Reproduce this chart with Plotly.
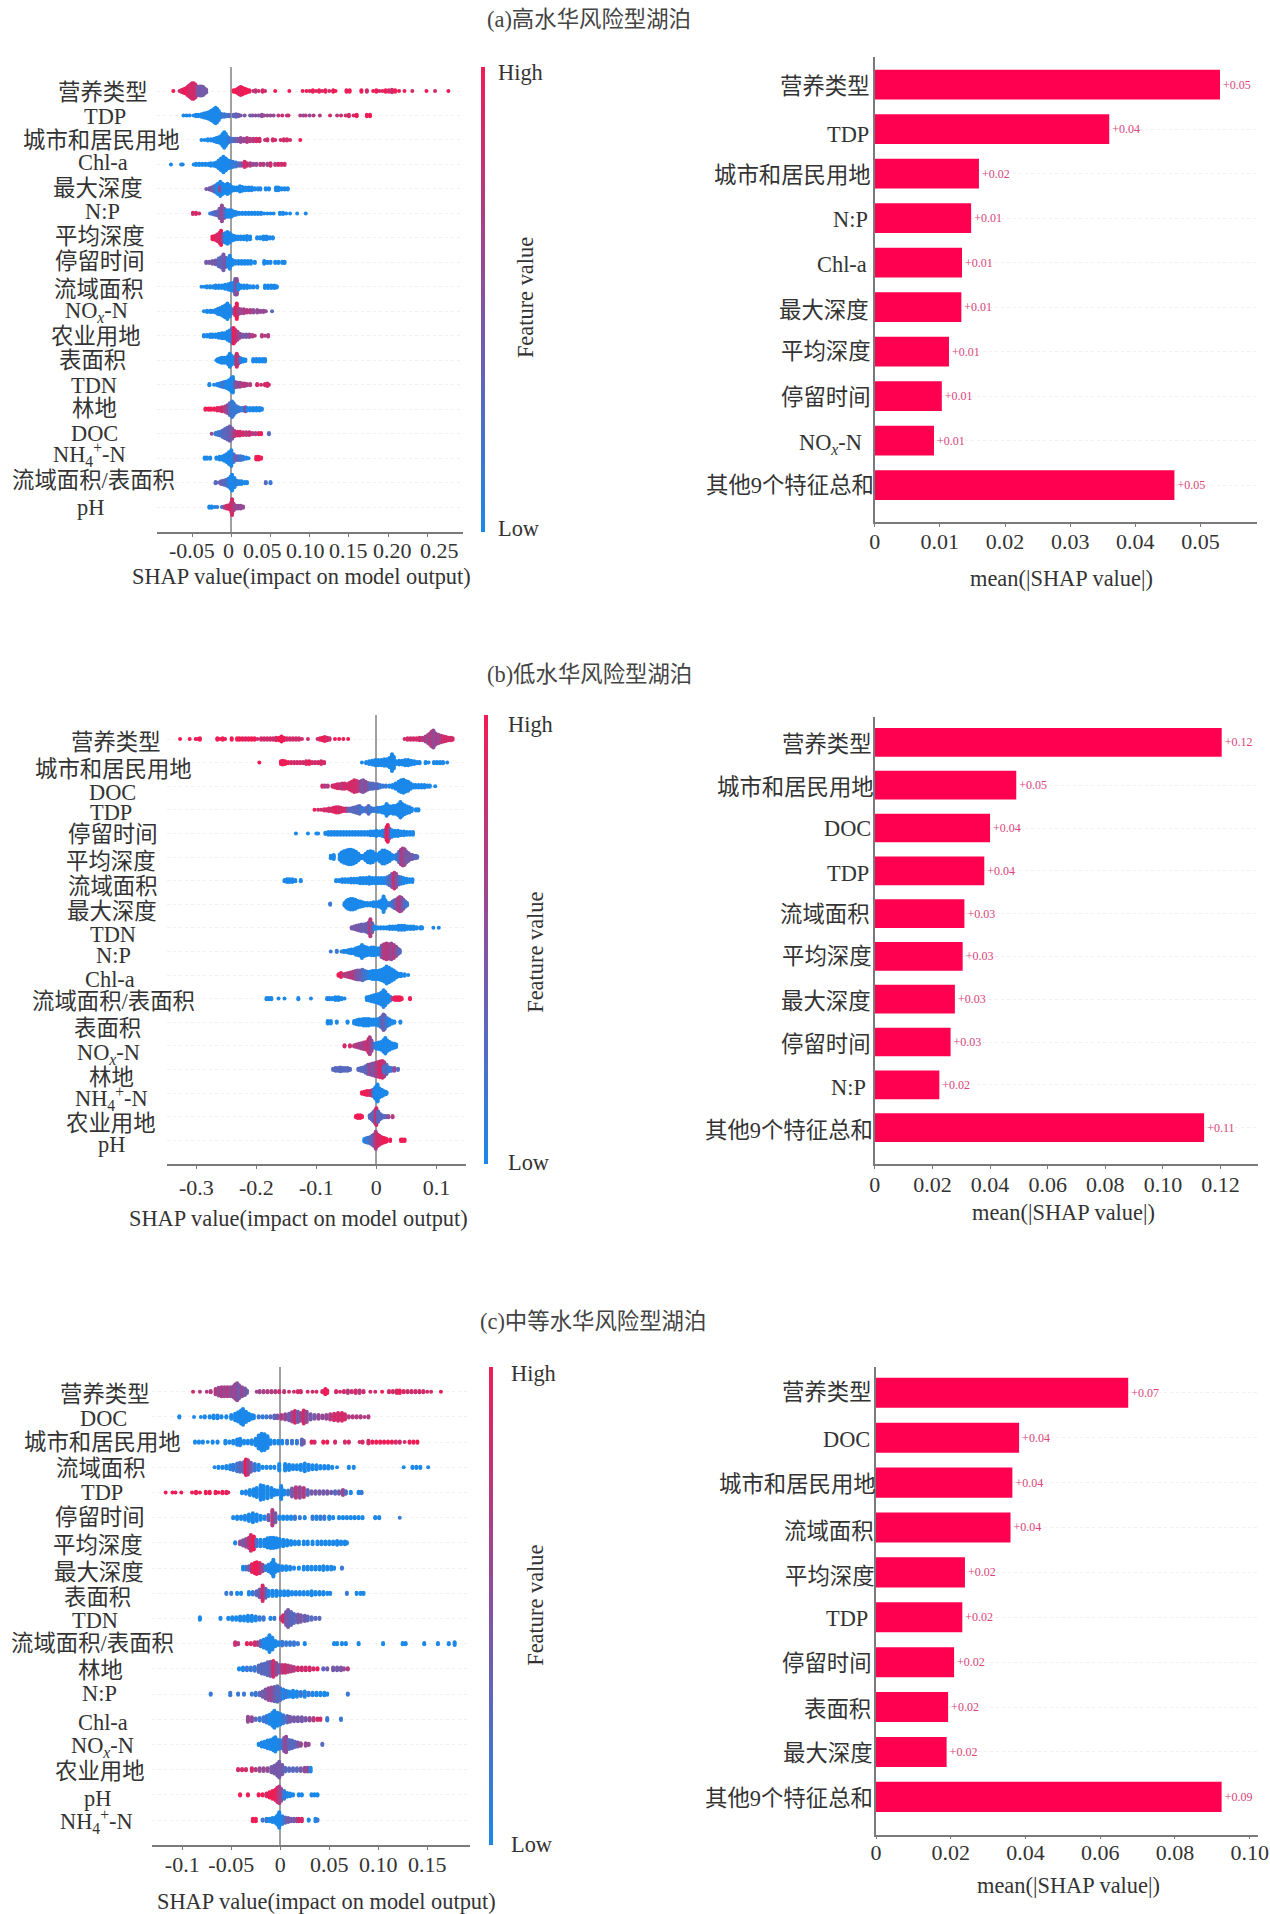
import plotly.graph_objects as go

W, H = 1270, 1914
FONT = "Liberation Serif, Noto Sans CJK SC"
TEXT_COLOR = "#333333"
AXIS_COLOR = "#7a7a7a"
STACK_PX = 1.3  # vertical step of the swarm

NOX = "NO<sub><i>x</i></sub>-N"
NH4 = "NH<sub>4</sub><sup>+</sup>-N"
OTHERS = "其他9个特征总和"

# SHAP rows: (shap value x 1000, number of samples, feature level from 2 = lowest to 9 = highest)
A_FEATURES = ["营养类型", "TDP", "城市和居民用地", "Chl-a", "最大深度", "N:P", "平均深度", "停留时间", "流域面积",
              NOX, "农业用地", "表面积", "TDN", "林地", "DOC", NH4, "流域面积/表面积", "pH"]
A_SHAP = [
    [(-74,1,9),(-66,1,8),(-64,2,8),(-62,3,8),(-60,4,9),(-58,5,9),(-56,7,9),(-54,9,8),(-52,11,8),(-50,13,8),(-48,13,8),(-46,11,8),(-44,8,7),(-42,7,5),(-40,8,5),(-38,8,5),(-36,7,5),(-34,5,5),(-32,3,5),(3,2,9),(6,3,9),(8,4,9),(10,6,9),(12,7,8),(14,6,9),(16,5,9),(18,4,9),(20,3,9),(23,2,9),(28,1,8),(31,2,7),(35,1,8),(40,2,8),(43,1,8),(56,1,9),(74,1,9),(91,1,9),(96,1,9),(100,1,8),(104,2,9),(108,1,8),(112,2,9),(116,1,8),(120,2,9),(125,1,8),(130,2,9),(133,1,9),(147,2,9),(151,2,9),(166,2,9),(173,2,8),(181,1,9),(185,2,9),(189,1,8),(193,1,9),(197,2,9),(201,2,8),(205,3,8),(209,2,9),(214,1,9),(221,1,9),(231,1,8),(249,1,9),(260,1,8),(277,1,9)],
    [(-61,1,2),(-57,1,2),(-53,1,2),(-48,1,2),(-45,2,2),(-42,2,2),(-38,3,2),(-35,4,2),(-32,5,2),(-29,6,2),(-26,8,2),(-24,9,2),(-22,11,2),(-20,13,2),(-18,11,2),(-16,8,2),(-14,4,2),(-12,3,3),(-9,3,3),(-6,2,3),(-3,2,4),(3,2,4),(6,3,4),(9,2,5),(12,1,5),(17,1,5),(24,1,5),(27,1,5),(31,1,6),(35,1,5),(39,2,6),(42,1,6),(46,1,6),(50,1,6),(54,1,6),(60,1,7),(65,1,8),(71,1,7),(73,1,8),(88,1,7),(92,1,6),(95,1,7),(100,1,6),(105,1,7),(113,1,7),(126,1,8),(135,1,7),(140,1,8),(146,1,8),(150,2,8),(156,1,8),(160,2,9),(173,2,9),(177,2,9)],
    [(-38,1,2),(-34,1,2),(-30,2,2),(-26,2,2),(-22,3,2),(-19,4,2),(-16,5,2),(-13,7,2),(-11,10,2),(-9,13,2),(-7,10,2),(-5,6,2),(-3,4,3),(-1,3,3),(2,3,4),(5,3,4),(8,3,5),(12,4,6),(16,3,6),(20,4,7),(24,3,7),(28,3,7),(32,3,8),(36,3,8),(43,1,7),(46,2,8),(53,2,8),(56,1,8),(63,1,8),(67,2,8),(71,2,8),(75,1,8),(88,1,9)],
    [(-77,1,2),(-64,1,2),(-62,1,2),(-48,1,2),(-45,2,2),(-41,2,2),(-37,2,2),(-33,2,2),(-29,2,2),(-26,3,2),(-22,3,2),(-19,4,2),(-16,7,2),(-13,10,2),(-10,13,2),(-7,10,2),(-4,7,2),(-1,6,2),(2,5,3),(6,4,3),(10,3,4),(13,3,5),(17,5,8),(20,3,8),(24,3,7),(28,2,6),(32,2,6),(37,2,7),(41,2,7),(46,2,6),(50,3,8),(56,2,7),(60,2,8),(64,2,8),(68,2,8)],
    [(-32,1,5),(-28,2,5),(-25,3,5),(-22,5,4),(-19,7,3),(-17,9,2),(-14,12,2),(-14,4,7),(-11,9,2),(-8,7,2),(-5,9,2),(-2,7,2),(1,4,2),(4,3,2),(7,3,2),(11,5,2),(14,4,2),(18,3,2),(22,3,2),(26,3,2),(30,2,2),(34,2,2),(37,2,2),(44,2,2),(48,2,2),(57,3,2),(60,3,2),(64,2,2),(68,2,2),(72,2,2)],
    [(-49,2,8),(-45,2,8),(-41,1,8),(-27,1,3),(-24,2,3),(-21,3,4),(-18,4,4),(-15,8,5),(-12,13,6),(-9,8,5),(-6,6,2),(-3,6,2),(0,6,2),(3,4,2),(6,3,2),(10,2,2),(14,2,2),(18,2,2),(22,2,2),(26,2,2),(30,2,2),(34,2,2),(38,2,2),(42,1,2),(46,1,2),(50,1,2),(54,1,2),(62,2,2),(66,2,2),(70,1,2),(75,1,2),(84,1,2),(95,1,2)],
    [(-24,3,9),(-21,4,9),(-18,6,8),(-15,9,8),(-13,12,9),(-11,7,6),(-8,8,2),(-5,10,2),(-2,8,2),(1,5,2),(4,4,2),(8,3,2),(12,3,2),(16,3,2),(20,4,2),(24,3,2),(33,2,2),(37,2,2),(41,3,2),(45,3,2),(49,2,2),(53,2,2)],
    [(-32,2,5),(-28,2,5),(-24,3,5),(-20,4,5),(-16,7,4),(-13,9,4),(-10,13,5),(-7,8,5),(-4,7,2),(-2,11,2),(1,5,2),(5,3,2),(9,3,2),(13,3,2),(17,3,2),(21,3,2),(25,3,2),(30,2,2),(42,3,2),(46,2,2),(50,2,2),(56,2,2),(60,2,2),(65,2,2),(68,2,2)],
    [(-38,1,2),(-34,1,2),(-31,2,2),(-27,2,2),(-23,2,2),(-20,3,2),(-16,3,2),(-12,3,2),(-8,4,2),(-4,5,2),(-1,6,2),(2,7,2),(5,13,4),(7,13,6),(9,5,2),(12,3,2),(16,3,2),(20,3,2),(24,2,2),(28,2,2),(33,2,2),(43,3,2),(47,3,2),(51,3,2),(55,3,2),(58,2,2)],
    [(-35,1,2),(-31,2,2),(-27,2,2),(-24,2,2),(-20,3,2),(-17,5,2),(-14,6,2),(-11,8,2),(-8,10,2),(-5,13,2),(-2,9,2),(1,4,3),(5,7,8),(7,13,9),(9,5,7),(12,4,6),(16,4,7),(20,3,7),(24,3,7),(28,3,6),(33,3,6),(37,2,6),(41,2,6),(44,1,6),(52,1,4)],
    [(-35,2,2),(-31,2,2),(-27,3,2),(-24,3,2),(-20,3,2),(-16,4,2),(-12,5,2),(-9,5,2),(-5,7,2),(-2,9,2),(1,12,3),(3,13,9),(5,10,8),(8,7,7),(11,4,6),(15,3,5),(19,3,5),(23,3,6),(27,2,7),(30,1,7),(39,2,7),(43,1,7),(47,2,7)],
    [(-19,1,2),(-17,3,2),(-14,4,2),(-12,5,2),(-9,5,2),(-6,5,2),(-4,7,2),(-2,11,2),(0,8,2),(3,5,2),(5,7,3),(7,11,8),(9,6,7),(12,4,3),(15,3,2),(18,2,2),(28,3,2),(32,3,2),(36,3,2),(40,3,2),(43,3,2)],
    [(-28,2,2),(-22,1,2),(-18,2,2),(-15,3,2),(-12,4,3),(-9,5,3),(-6,6,2),(-3,8,2),(0,11,2),(2,13,2),(5,5,5),(8,4,6),(11,4,6),(14,3,7),(17,3,7),(20,2,7),(24,2,7),(33,2,8),(38,1,8),(43,2,8),(46,3,8),(48,1,8)],
    [(-33,2,9),(-29,2,9),(-26,2,9),(-22,2,9),(-18,3,9),(-15,3,8),(-12,4,8),(-8,5,7),(-5,7,6),(-2,10,4),(1,13,3),(3,10,3),(6,6,3),(9,4,3),(12,3,3),(15,3,2),(18,4,7),(20,3,2),(24,3,2),(28,3,2),(32,3,2),(36,3,2),(39,2,2)],
    [(-25,1,6),(-20,2,3),(-17,3,3),(-14,4,3),(-11,6,4),(-8,8,4),(-5,10,4),(-2,12,5),(1,9,5),(4,5,7),(8,4,8),(11,4,8),(15,3,8),(19,3,7),(23,3,8),(27,2,7),(31,2,7),(35,2,8),(38,2,9),(48,2,4)],
    [(-34,2,2),(-31,2,2),(-27,2,2),(-19,2,2),(-15,3,2),(-12,3,2),(-9,5,2),(-6,7,2),(-3,10,2),(0,13,2),(3,7,3),(6,4,5),(9,4,4),(12,4,3),(15,3,3),(19,2,2),(22,1,2),(32,3,9),(35,3,9),(38,2,9)],
    [(-20,2,4),(-16,1,4),(-13,3,5),(-10,4,4),(-7,5,4),(-4,7,3),(-1,10,2),(1,13,2),(4,8,2),(7,4,3),(10,3,2),(13,3,2),(17,2,2),(20,2,2),(44,2,4),(50,2,3)],
    [(-28,2,2),(-25,2,2),(-21,1,2),(-18,1,3),(-12,1,3),(-9,2,6),(-6,3,8),(-3,4,8),(0,8,8),(1,13,8),(3,6,7),(6,3,6),(9,3,6),(12,3,6),(15,2,6)],
]

B_FEATURES = ["营养类型", "城市和居民用地", "DOC", "TDP", "停留时间", "平均深度", "流域面积", "最大深度", "TDN", "N:P",
              "Chl-a", "流域面积/表面积", "表面积", NOX, "林地", NH4, "农业用地", "pH"]
B_SHAP = [
    [(-327,1,9),(-311,1,9),(-301,1,9),(-297,1,9),(-294,2,9),(-265,2,9),(-261,1,9),(-256,2,9),(-252,1,9),(-241,2,9),(-232,2,9),(-228,2,9),(-223,2,9),(-218,2,8),(-213,2,9),(-208,2,9),(-203,2,9),(-198,1,8),(-192,2,8),(-187,2,8),(-182,2,8),(-177,2,8),(-172,2,8),(-167,3,8),(-162,3,9),(-158,5,9),(-154,3,9),(-149,2,8),(-144,2,8),(-139,2,8),(-134,2,8),(-129,2,8),(-124,1,8),(-114,1,8),(-98,1,8),(-94,2,8),(-90,3,9),(-86,4,9),(-82,3,8),(-78,2,8),(-69,1,9),(-62,1,9),(-55,1,9),(-47,1,9),(47,1,8),(52,2,8),(57,2,8),(62,2,8),(67,2,8),(72,3,8),(77,3,7),(82,5,7),(86,7,6),(89,9,7),(92,12,7),(95,14,6),(98,10,6),(101,8,7),(104,7,6),(108,6,7),(112,5,8),(116,4,8),(120,3,8),(124,3,8),(127,2,8)],
    [(-195,1,9),(-159,3,9),(-156,4,9),(-152,3,9),(-147,2,9),(-142,2,8),(-137,2,8),(-132,2,8),(-127,2,8),(-122,2,8),(-117,3,8),(-112,3,9),(-107,2,8),(-102,2,8),(-97,2,8),(-92,3,8),(-87,2,8),(-24,1,2),(-17,2,2),(-12,3,2),(-7,4,2),(-2,5,2),(3,5,2),(8,5,2),(13,6,2),(18,6,2),(22,8,2),(26,14,2),(29,10,2),(33,3,2),(38,4,2),(43,4,2),(48,5,2),(53,5,2),(58,4,2),(63,3,2),(68,2,2),(72,2,2),(82,2,2),(87,1,2),(96,2,2),(101,2,2),(106,2,2),(111,2,2),(118,1,2)],
    [(-90,2,8),(-86,2,7),(-81,2,7),(-73,2,8),(-69,3,8),(-65,4,8),(-61,4,8),(-57,5,7),(-53,5,8),(-49,4,8),(-45,6,8),(-41,8,8),(-37,10,8),(-33,9,8),(-29,8,7),(-25,9,6),(-22,10,5),(-18,8,6),(-14,6,5),(-10,5,4),(-6,5,4),(-2,4,4),(2,4,4),(6,3,3),(11,2,3),(16,2,3),(22,2,2),(27,3,2),(32,5,2),(37,8,2),(41,10,2),(45,11,2),(49,9,2),(53,8,2),(57,5,2),(61,3,2),(65,3,2),(70,3,2),(75,3,2),(80,3,2),(85,2,2),(89,2,2),(98,1,2)],
    [(-103,1,9),(-97,1,8),(-92,1,8),(-87,2,8),(-83,2,8),(-79,3,8),(-75,3,8),(-71,4,8),(-67,5,9),(-63,5,8),(-59,4,8),(-55,3,8),(-51,3,8),(-47,3,5),(-43,3,4),(-39,4,4),(-35,5,4),(-31,6,4),(-28,7,4),(-24,4,3),(-20,3,3),(-16,4,4),(-13,7,4),(-10,4,3),(-6,3,3),(-2,3,3),(2,4,3),(6,4,2),(10,5,2),(14,6,2),(17,10,2),(20,7,2),(24,6,2),(28,7,2),(32,7,2),(36,9,2),(40,13,2),(43,10,2),(47,8,2),(51,6,2),(55,5,2),(59,3,2),(66,2,2),(70,2,2)],
    [(-134,1,2),(-114,1,2),(-100,1,2),(-97,1,2),(-85,2,2),(-80,3,2),(-75,3,2),(-70,3,2),(-65,3,2),(-60,3,2),(-55,3,2),(-50,3,2),(-45,3,2),(-40,3,2),(-35,3,2),(-30,3,2),(-25,3,2),(-20,3,2),(-15,3,2),(-10,4,2),(-5,4,2),(0,5,2),(5,4,2),(10,5,2),(14,6,3),(17,11,8),(19,14,9),(22,8,6),(26,6,2),(31,5,2),(36,5,2),(41,4,2),(46,4,2),(51,3,2),(56,3,2),(61,3,2)],
    [(-76,3,2),(-71,4,2),(-61,5,2),(-58,8,2),(-54,10,2),(-50,11,2),(-46,12,2),(-42,12,2),(-38,11,2),(-34,9,2),(-30,6,2),(-26,3,2),(-22,3,2),(-18,6,2),(-14,9,2),(-10,10,2),(-6,9,2),(-2,6,2),(2,5,2),(6,8,2),(10,11,2),(14,11,2),(18,9,2),(22,7,2),(26,4,2),(30,3,2),(34,5,3),(38,9,4),(41,12,6),(44,14,7),(47,13,6),(50,9,5),(53,7,5),(56,5,5),(60,4,5),(65,3,4),(68,2,4)],
    [(-153,2,2),(-149,3,2),(-145,3,2),(-140,3,2),(-135,2,2),(-126,2,2),(-67,2,2),(-62,2,2),(-57,3,2),(-52,3,2),(-47,3,2),(-42,4,2),(-37,4,2),(-32,4,2),(-27,5,2),(-22,5,2),(-17,5,2),(-12,6,2),(-7,5,2),(-2,5,2),(3,5,2),(8,5,2),(13,5,2),(18,6,3),(22,8,4),(26,11,5),(30,13,8),(33,11,6),(37,7,4),(41,6,3),(45,5,2),(50,4,2),(55,3,2),(60,3,2)],
    [(-77,2,3),(-53,3,2),(-50,6,2),(-47,8,2),(-43,9,2),(-39,9,2),(-35,8,2),(-31,6,2),(-27,5,2),(-23,4,2),(-19,3,2),(-15,3,2),(-10,3,2),(-5,4,2),(0,4,2),(5,5,2),(9,7,2),(12,13,2),(15,7,2),(19,3,2),(23,3,3),(27,5,3),(30,7,4),(33,8,5),(36,10,6),(39,12,7),(42,11,6),(45,8,5),(48,5,4),(51,3,3)],
    [(-41,2,5),(-37,3,5),(-33,4,5),(-29,5,5),(-25,6,5),(-21,6,4),(-17,7,5),(-13,9,5),(-10,14,7),(-7,8,5),(-3,3,2),(2,2,2),(7,2,2),(12,2,2),(17,2,2),(22,3,2),(27,3,2),(32,3,2),(37,4,2),(42,4,2),(47,4,2),(52,3,2),(57,3,2),(62,3,2),(67,2,2),(73,2,2),(76,2,2),(95,1,2),(104,1,2)],
    [(-76,1,3),(-66,2,3),(-58,1,3),(-54,2,2),(-50,2,2),(-46,3,2),(-42,4,2),(-38,4,2),(-34,6,2),(-30,7,2),(-26,8,2),(-24,11,2),(-20,8,2),(-16,7,2),(-12,6,2),(-8,7,2),(-4,7,2),(0,6,2),(5,6,2),(9,10,5),(13,12,7),(17,13,7),(21,12,7),(25,13,6),(29,11,7),(33,8,6),(36,5,5),(39,3,4)],
    [(-63,2,9),(-59,4,9),(-55,2,7),(-51,3,7),(-47,4,7),(-43,5,7),(-39,6,7),(-35,7,6),(-31,8,5),(-27,8,5),(-23,9,4),(-19,7,3),(-15,6,3),(-11,6,2),(-7,7,2),(-3,7,2),(1,7,2),(5,8,2),(9,9,2),(13,11,2),(17,14,2),(21,12,2),(25,10,2),(29,8,2),(33,5,2),(37,3,2),(41,3,2),(47,2,2),(53,1,2)],
    [(-183,2,2),(-179,2,2),(-175,2,2),(-163,1,2),(-153,1,2),(-130,2,2),(-109,1,2),(-82,2,2),(-78,2,2),(-73,2,2),(-68,3,2),(-63,3,2),(-58,2,2),(-53,1,2),(-16,3,2),(-12,4,2),(-8,5,2),(-4,6,2),(0,7,2),(4,8,2),(8,10,2),(12,14,2),(15,11,2),(19,7,2),(23,4,2),(27,2,7),(31,3,9),(35,3,9),(39,3,9),(42,2,9),(56,2,9)],
    [(-81,3,2),(-76,3,2),(-66,2,2),(-48,2,2),(-37,3,2),(-33,4,2),(-29,5,2),(-25,5,2),(-21,6,2),(-17,6,2),(-13,6,2),(-9,5,2),(-5,5,2),(-1,5,2),(3,6,2),(7,8,3),(10,10,4),(12,13,5),(14,11,4),(18,7,3),(22,5,2),(26,3,2),(30,2,2),(40,2,2)],
    [(-53,2,8),(-44,2,8),(-37,2,7),(-33,3,7),(-29,4,7),(-25,5,6),(-21,6,7),(-17,7,7),(-13,11,8),(-11,14,7),(-8,9,6),(-4,4,4),(0,5,2),(4,6,2),(8,7,2),(12,10,2),(15,13,2),(18,9,2),(22,7,2),(26,5,2),(30,4,2),(33,3,2)],
    [(-72,2,4),(-68,3,4),(-64,3,4),(-60,4,4),(-56,3,4),(-52,3,4),(-48,3,4),(-44,2,4),(-30,2,4),(-26,3,4),(-22,4,4),(-18,6,4),(-14,8,5),(-10,9,6),(-6,10,5),(-2,11,6),(2,12,7),(6,13,8),(10,14,8),(13,12,7),(13,5,3),(17,8,4),(21,4,3),(25,3,3),(30,3,6),(36,2,4)],
    [(-24,2,9),(-20,3,9),(-16,4,9),(-12,4,8),(-8,5,8),(-5,6,4),(-2,9,2),(0,11,2),(2,14,2),(5,8,2),(9,6,2),(12,4,2),(15,3,2),(17,2,2)],
    [(-34,2,9),(-31,3,9),(-27,3,9),(-24,2,9),(-11,3,4),(-8,5,4),(-5,8,4),(-2,11,5),(0,14,8),(3,9,4),(6,5,4),(9,3,4),(13,2,4),(16,2,4),(20,2,6),(27,2,7)],
    [(-20,3,2),(-17,4,3),(-14,5,3),(-10,6,4),(-7,8,4),(-4,10,5),(-1,14,7),(2,10,8),(5,8,8),(8,6,8),(11,5,9),(14,4,9),(17,3,9),(23,2,9),(41,2,9),(44,2,9),(47,2,9)],
]

C_FEATURES = ["营养类型", "DOC", "城市和居民用地", "流域面积", "TDP", "停留时间", "平均深度", "最大深度", "表面积", "TDN",
              "流域面积/表面积", "林地", "N:P", "Chl-a", NOX, "农业用地", "pH", NH4]
C_SHAP = [
    [(-89,1,8),(-82,1,7),(-75,1,7),(-71,2,7),(-66,5,7),(-63,7,6),(-60,8,7),(-57,8,6),(-54,8,7),(-51,8,6),(-48,9,6),(-46,12,6),(-44,14,6),(-42,11,5),(-39,8,6),(-36,6,5),(-34,3,5),(-24,1,7),(-21,2,6),(-17,2,7),(-13,2,7),(-9,2,7),(-5,2,7),(-1,2,8),(4,2,7),(9,1,8),(14,1,8),(18,2,8),(21,2,8),(28,1,8),(33,1,8),(37,1,8),(43,2,8),(46,5,9),(48,3,9),(57,2,8),(61,1,8),(65,2,8),(69,3,7),(73,2,8),(77,3,8),(81,3,7),(85,2,8),(92,1,8),(97,1,8),(104,1,9),(111,2,8),(115,2,8),(119,3,8),(122,3,9),(126,2,8),(130,2,8),(134,2,8),(138,2,8),(142,2,8),(146,2,8),(150,1,8),(154,1,8),(164,1,9)],
    [(-103,2,2),(-88,1,2),(-81,1,2),(-77,2,2),(-72,2,2),(-68,3,2),(-64,3,2),(-60,2,2),(-55,2,2),(-50,4,2),(-46,6,2),(-43,8,2),(-40,11,2),(-38,13,2),(-35,9,2),(-32,6,2),(-29,4,2),(-27,3,2),(-22,2,3),(-18,2,3),(-14,2,3),(-10,2,4),(-6,3,4),(-3,3,5),(1,4,7),(5,5,6),(9,6,5),(12,8,6),(15,10,8),(18,9,5),(21,7,6),(24,11,8),(27,9,6),(31,5,5),(35,4,5),(39,4,6),(43,3,6),(47,4,6),(51,5,7),(55,6,8),(59,7,8),(63,7,8),(66,5,8),(70,2,7),(74,2,7),(78,2,7),(82,2,7),(86,1,7),(90,2,7)],
    [(-87,2,2),(-83,2,2),(-79,2,2),(-74,1,2),(-69,2,2),(-64,2,2),(-56,3,2),(-52,2,2),(-48,3,2),(-44,5,2),(-41,6,2),(-37,3,2),(-33,3,2),(-29,4,2),(-25,6,2),(-22,11,2),(-19,14,2),(-16,13,2),(-13,10,2),(-10,4,2),(-6,3,2),(-2,3,2),(2,3,2),(7,3,3),(12,3,3),(17,3,3),(22,5,4),(24,3,5),(32,2,9),(35,2,8),(44,2,9),(48,2,9),(56,2,8),(66,2,8),(70,2,8),(81,1,8),(84,2,8),(90,3,8),(94,2,9),(98,2,9),(102,2,9),(106,2,9),(110,2,9),(114,2,9),(118,2,8),(122,2,8),(127,1,8),(132,2,9),(136,2,9),(140,2,9)],
    [(-67,1,2),(-63,2,2),(-59,2,2),(-55,3,2),(-51,4,2),(-48,5,3),(-44,7,3),(-41,8,4),(-37,9,5),(-35,13,9),(-33,12,7),(-30,8,5),(-26,6,3),(-22,5,2),(-18,2,2),(-14,2,2),(-10,2,2),(-6,2,2),(-1,6,2),(5,6,2),(9,5,2),(13,4,2),(17,4,2),(21,5,2),(25,7,2),(29,5,2),(33,4,2),(37,4,2),(41,3,2),(45,3,2),(49,3,2),(53,2,2),(58,1,2),(70,2,2),(75,2,2),(126,1,2),(135,2,2),(139,2,2),(143,2,2),(151,1,2)],
    [(-117,1,9),(-110,1,9),(-107,1,9),(-101,1,9),(-90,1,9),(-86,2,9),(-82,1,9),(-76,2,9),(-72,2,9),(-66,2,9),(-63,1,9),(-59,2,9),(-55,2,9),(-53,1,8),(-39,2,2),(-35,3,2),(-31,5,2),(-27,6,2),(-24,8,2),(-20,12,2),(-17,11,2),(-13,10,2),(-9,8,2),(-6,5,2),(-3,4,2),(1,11,2),(4,4,2),(8,4,3),(12,7,5),(16,9,7),(20,9,6),(24,8,7),(28,5,4),(32,3,5),(36,3,5),(40,3,5),(44,3,5),(48,3,5),(52,2,5),(56,3,4),(60,3,5),(64,5,6),(67,3,4),(72,2,2),(80,2,2),(83,2,3)],
    [(-48,2,2),(-44,3,2),(-40,3,2),(-36,4,2),(-32,6,2),(-28,8,2),(-24,6,2),(-20,4,2),(-16,3,2),(-12,5,5),(-8,13,7),(-5,8,5),(-1,3,2),(3,3,2),(7,3,2),(11,3,2),(15,3,3),(20,2,3),(25,2,2),(33,3,3),(37,3,2),(41,3,3),(45,3,3),(50,3,2),(54,2,2),(60,2,2),(64,2,2),(68,2,2),(72,2,2),(76,2,2),(80,2,2),(84,2,2),(97,2,2),(101,2,2),(122,1,3)],
    [(-46,2,2),(-41,3,6),(-38,5,5),(-35,7,6),(-32,9,7),(-30,13,8),(-27,11,9),(-24,6,3),(-20,6,2),(-16,6,2),(-13,8,2),(-10,9,2),(-7,9,2),(-4,8,2),(-1,7,2),(3,6,2),(7,5,2),(11,4,2),(15,3,2),(19,3,2),(24,3,2),(28,3,2),(33,3,2),(38,3,2),(42,3,2),(46,3,2),(50,3,2),(54,3,2),(58,4,2),(62,3,2),(66,3,2),(68,2,2)],
    [(-38,3,2),(-35,3,3),(-32,4,5),(-29,7,8),(-26,9,9),(-24,10,9),(-21,9,8),(-18,6,6),(-15,4,3),(-12,6,2),(-9,9,2),(-7,14,2),(-5,7,2),(-2,5,2),(2,4,2),(6,4,2),(10,3,2),(14,2,2),(19,2,2),(24,3,2),(28,3,2),(32,3,2),(36,3,2),(40,3,2),(44,4,2),(48,3,2),(52,3,2),(55,2,2),(63,2,3)],
    [(-55,2,3),(-50,2,3),(-44,2,2),(-40,2,2),(-32,3,2),(-28,3,3),(-24,4,4),(-21,7,5),(-18,13,8),(-15,8,5),(-12,5,2),(-8,5,2),(-4,5,2),(0,4,2),(4,4,2),(8,4,2),(12,3,2),(16,3,2),(20,3,2),(24,3,2),(28,3,2),(32,4,2),(36,3,2),(40,3,2),(44,3,2),(48,2,2),(51,2,2),(68,2,3),(78,2,2),(82,2,2),(85,2,2)],
    [(-82,3,2),(-61,2,2),(-53,2,2),(-49,3,2),(-45,3,2),(-41,4,2),(-37,4,2),(-33,5,2),(-29,5,2),(-25,4,2),(-21,3,3),(-17,3,3),(-10,2,2),(-6,2,3),(1,3,7),(3,6,8),(6,11,5),(8,14,5),(11,11,4),(14,8,4),(18,7,5),(21,6,5),(25,5,5),(28,4,4),(32,3,4),(36,2,4),(40,2,4)],
    [(-46,3,8),(-43,2,7),(-34,2,9),(-30,2,8),(-26,3,8),(-23,3,7),(-20,5,4),(-17,7,2),(-14,9,2),(-11,14,2),(-8,10,2),(-5,5,2),(-2,3,2),(2,4,3),(6,3,3),(10,3,3),(14,3,3),(18,2,3),(25,2,2),(55,2,2),(58,2,2),(63,2,2),(67,2,2),(80,2,2),(105,2,2),(125,2,2),(128,2,2),(147,2,2),(161,2,2),(172,2,2),(178,3,2)],
    [(-42,2,2),(-38,3,2),(-34,3,3),(-30,3,3),(-26,4,3),(-22,6,4),(-19,8,4),(-16,9,4),(-13,11,4),(-10,12,5),(-7,13,8),(-4,10,6),(-1,7,5),(2,7,7),(5,7,8),(8,6,7),(11,5,7),(14,4,7),(18,3,8),(22,3,8),(26,3,8),(30,3,8),(34,2,8),(38,2,9),(44,2,4),(48,2,5),(54,3,5),(58,3,5),(62,3,5),(65,2,6),(69,2,7)],
    [(-71,2,3),(-51,3,3),(-43,2,3),(-37,2,3),(-29,2,3),(-25,3,3),(-21,3,4),(-18,5,5),(-15,8,5),(-12,10,6),(-9,11,6),(-6,12,5),(-3,13,4),(0,10,4),(3,8,2),(6,6,3),(9,5,2),(13,6,2),(17,5,2),(21,4,3),(25,5,2),(29,3,3),(33,3,2),(37,3,2),(41,3,2),(45,3,2),(48,2,2),(69,2,3)],
    [(-33,5,6),(-29,4,6),(-25,2,4),(-21,3,3),(-17,4,3),(-14,6,3),(-11,8,2),(-8,11,2),(-6,14,2),(-3,11,2),(0,9,2),(3,7,3),(7,6,4),(10,5,5),(14,4,5),(18,4,5),(22,4,5),(26,3,5),(30,3,6),(34,3,7),(38,2,8),(41,2,8),(48,3,3),(62,2,3)],
    [(-22,2,2),(-19,4,2),(-16,5,2),(-13,7,2),(-10,8,2),(-7,10,2),(-5,12,2),(-2,8,2),(1,7,3),(4,11,5),(6,13,6),(9,8,4),(12,7,4),(15,5,4),(18,4,5),(21,3,6),(26,3,6),(29,2,6),(43,2,4)],
    [(-43,2,8),(-39,2,8),(-35,2,8),(-29,3,8),(-25,2,7),(-21,3,6),(-17,3,6),(-13,3,6),(-9,5,5),(-6,7,5),(-3,10,5),(-1,13,5),(2,8,5),(5,4,4),(9,3,4),(13,3,4),(17,3,4),(21,3,5),(25,4,6),(28,4,6),(31,4,2)],
    [(-41,2,9),(-33,2,9),(-22,2,9),(-18,2,9),(-14,3,8),(-11,5,9),(-8,7,9),(-5,9,9),(-3,12,8),(-1,14,7),(1,10,6),(4,7,3),(7,4,2),(10,3,2),(13,2,2),(19,2,2),(22,2,2),(32,2,2),(35,2,2),(38,2,2)],
    [(-28,3,9),(-25,3,9),(-18,2,3),(-14,3,3),(-11,3,2),(-8,4,2),(-5,5,2),(-3,8,2),(-1,13,2),(2,7,2),(5,5,4),(8,4,5),(11,3,5),(14,3,5),(17,3,6),(19,3,8),(22,3,8),(29,2,2),(36,3,2),(38,2,3)],
]

# mean(|SHAP value|) bars
A_BAR_NAMES = ["营养类型", "TDP", "城市和居民用地", "N:P", "Chl-a", "最大深度", "平均深度", "停留时间", NOX, OTHERS]
A_BAR_VALUES = [0.0530, 0.0360, 0.0160, 0.0148, 0.0134, 0.0133, 0.0114, 0.0103, 0.0091, 0.0460]
B_BAR_NAMES = ["营养类型", "城市和居民用地", "DOC", "TDP", "流域面积", "平均深度", "最大深度", "停留时间", "N:P", OTHERS]
B_BAR_VALUES = [0.1204, 0.0491, 0.0400, 0.0380, 0.0311, 0.0305, 0.0278, 0.0263, 0.0224, 0.1143]
C_BAR_NAMES = ["营养类型", "DOC", "城市和居民用地", "流域面积", "平均深度", "TDP", "停留时间", "表面积", "最大深度", OTHERS]
C_BAR_VALUES = [0.0675, 0.0383, 0.0365, 0.0360, 0.0238, 0.0231, 0.0209, 0.0193, 0.0189, 0.0925]

A_SHAP_TICKS = [-0.05, 0, 0.05, 0.10, 0.15, 0.20, 0.25]
A_SHAP_TICK_TEXT = ["-0.05", "0", "0.05", "0.10", "0.15", "0.20", "0.25"]
B_SHAP_TICKS = [-0.3, -0.2, -0.1, 0, 0.1]
B_SHAP_TICK_TEXT = ["-0.3", "-0.2", "-0.1", "0", "0.1"]
C_SHAP_TICKS = [-0.1, -0.05, 0, 0.05, 0.10, 0.15]
C_SHAP_TICK_TEXT = ["-0.1", "-0.05", "0", "0.05", "0.10", "0.15"]
A_BAR_TICKS = [0, 0.01, 0.02, 0.03, 0.04, 0.05]
A_BAR_TICK_TEXT = ["0", "0.01", "0.02", "0.03", "0.04", "0.05"]
B_BAR_TICKS = [0, 0.02, 0.04, 0.06, 0.08, 0.10, 0.12]
B_BAR_TICK_TEXT = ["0", "0.02", "0.04", "0.06", "0.08", "0.10", "0.12"]
C_BAR_TICKS = [0, 0.02, 0.04, 0.06, 0.08, 0.10]
C_BAR_TICK_TEXT = ["0", "0.02", "0.04", "0.06", "0.08", "0.10"]

TITLES = ["(a)高水华风险型湖泊", "(b)低水华风险型湖泊", "(c)中等水华风险型湖泊"]

# the labels in the source figure were pasted by hand, so their pixel places are kept apart here
A_LABEL_X = [103, 104.5, 101, 102.5, 98, 102, 99.6, 99.6, 98.8, 96, 96, 92.3, 93.6, 94, 94.8, 89.9, 93.2, 90.3]
A_LABEL_Y = [92.9, 116.6, 140.4, 162.9, 188.6, 211.9, 236.5, 261.4, 289, 312.4, 336.5, 361, 385.5, 408.5, 433.4, 454.7, 480.8, 507.7]
B_LABEL_X = [116.2, 113.8, 112.6, 110.6, 112.6, 111.4, 113, 112.2, 112.6, 113.4, 110.2, 113.4, 107.3, 108.1, 111.4, 111.4, 111.4, 111.4]
B_LABEL_Y = [742.8, 769.3, 793, 812.4, 834.9, 861.4, 886, 911.3, 934.6, 955.5, 979.3, 1001.4, 1028.3, 1054, 1077.3, 1098.7, 1123.2, 1144.5]
C_LABEL_X = [105.3, 103.3, 102, 101.3, 102, 100.4, 98.4, 99.2, 97.2, 95.2, 92.8, 100.4, 99.2, 102.5, 102.9, 100, 97.2, 96.4]
C_LABEL_Y = [1394, 1418.6, 1442.5, 1468.4, 1492.2, 1517.7, 1545.9, 1572.1, 1597.6, 1620.3, 1643.8, 1670, 1693.5, 1722, 1747.1, 1771.8, 1798.4, 1821.5]
A_BAR_LABEL_X = [825.4, 848.4, 792.6, 850.5, 842, 823.7, 826.2, 826.2, 830.2, 789.7]
A_BAR_LABEL_Y = [86.6, 134.4, 175.2, 219.5, 264.1, 310.4, 351.9, 397.4, 443.7, 485.6]
B_BAR_LABEL_X = [827, 795.8, 847.2, 848, 825.4, 827, 825.8, 825.8, 848.4, 788.9]
B_BAR_LABEL_Y = [744.8, 787.1, 828.6, 873.3, 914, 956.3, 1001, 1044.1, 1087.6, 1130.3]
C_BAR_LABEL_X = [827, 846.4, 797, 828.6, 830.2, 846.8, 827, 837.5, 827.8, 788.5]
C_BAR_LABEL_Y = [1392.8, 1439, 1484, 1531, 1576, 1618.3, 1663.4, 1709.2, 1753, 1798.4]
A_TICK_LABEL_X = [192.4, 228.8, 262.5, 305.8, 348.3, 392, 439.5]

fig = go.Figure()
annotations = []


def label(x, y, text, size=22.4, anchor="center", angle=0, color=TEXT_COLOR):
    annotations.append(dict(xref="paper", yref="paper", x=x / W, y=1 - y / H, text=text, showarrow=False,
                            xanchor=anchor, yanchor="middle", textangle=angle,
                            font=dict(family=FONT, size=size, color=color)))


def x_axis(left, right, x_range, ticks, tick_text, standoff, anchor, zero=False, show_labels=True):
    return dict(domain=[left / W, right / W], range=x_range, tickvals=ticks, ticktext=tick_text, anchor=anchor,
                showticklabels=show_labels, ticks="outside", ticklen=3, tickcolor=AXIS_COLOR, showgrid=False,
                showline=True, linecolor=AXIS_COLOR, linewidth=1.5, zeroline=zero, zerolinecolor="#a0a0a0",
                zerolinewidth=1.5, ticklabelstandoff=standoff,
                tickfont=dict(family=FONT, size=22, color=TEXT_COLOR))


def y_axis(top, bottom, y_range, rows, anchor, line=False):
    return dict(domain=[1 - bottom / H, 1 - top / H], range=y_range, tickvals=list(range(rows)),
                showticklabels=False, ticks="", showgrid=True, gridcolor="#f0f0f0", griddash="dot", gridwidth=1,
                zeroline=False, showline=line, linecolor=AXIS_COLOR, linewidth=1.5, anchor=anchor)


def swarm(rows, row_px, x_name, y_name, bar_x, top, bottom):
    xs, ys, cs = [], [], []
    for i, row in enumerate(rows):
        for value, count, level in row:
            for k in range(count):
                xs.append(value / 1000)
                ys.append(i + (k - (count - 1) / 2) * STACK_PX / row_px)
                cs.append((level - 2) / 7)
    fig.add_trace(go.Scatter(
        x=xs, y=ys, mode="markers", xaxis=x_name, yaxis=y_name, showlegend=False, hoverinfo="skip",
        marker=dict(size=4, color=cs, cmin=0, cmax=1, line=dict(width=0),
                    colorscale=[[0, "#1b88ea"], [1, "#f01c55"]],
                    colorbar=dict(x=(bar_x - 2) / W, xanchor="left", y=1 - bottom / H, yanchor="bottom",
                                  len=(bottom - top) / H, lenmode="fraction", thickness=4, thicknessmode="pixels",
                                  outlinewidth=0, showticklabels=False, ticks="", xpad=0, ypad=0))))


def bars(names, values, x_name, y_name):
    fig.add_trace(go.Bar(
        x=values, y=list(range(len(names))), orientation="h", xaxis=x_name, yaxis=y_name, width=0.67,
        marker=dict(color="#ff0051", line=dict(width=0)), showlegend=False, hoverinfo="skip",
        text=[f"+{v:.2f}" for v in values], textposition="outside", cliponaxis=False,
        textfont=dict(family=FONT, size=12, color="#d9447a")))


# (a)
swarm(A_SHAP, 24.47, "x", "y", 483, 67.2, 531.8)
bars(A_BAR_NAMES, A_BAR_VALUES, "x2", "y2")
# (b)
swarm(B_SHAP, 23.6, "x3", "y3", 486, 715.1, 1164.3)
bars(B_BAR_NAMES, B_BAR_VALUES, "x4", "y4")
# (c)
swarm(C_SHAP, 25.19, "x5", "y5", 491.3, 1366.6, 1845)
bars(C_BAR_NAMES, C_BAR_VALUES, "x6", "y6")

fig.update_layout(
    width=W, height=H, margin=dict(l=0, r=0, t=0, b=0, autoexpand=False), paper_bgcolor="white", plot_bgcolor="white",
    xaxis=x_axis(157, 462.5, [-0.0948, 0.295], A_SHAP_TICKS, A_SHAP_TICK_TEXT, 2, "y", zero=True, show_labels=False),
    yaxis=y_axis(67.2, 531.8, [18.01, -0.973], 18, "x"),
    xaxis2=x_axis(874.7, 1256.5, [0, 0.0586], A_BAR_TICKS, A_BAR_TICK_TEXT, -4, "y2"),
    yaxis2=y_axis(56.5, 522, [9.83, -0.631], 10, "x2", line=True),
    xaxis3=x_axis(167.3, 465.8, [-0.3483, 0.149], B_SHAP_TICKS, B_SHAP_TICK_TEXT, 0, "y3", zero=True),
    yaxis3=y_axis(715.1, 1164.3, [18.02, -1.013], 18, "x3"),
    xaxis4=x_axis(874.8, 1258, [0, 0.133], B_BAR_TICKS, B_BAR_TICK_TEXT, -3, "y4"),
    yaxis4=y_axis(717.1, 1163.9, [9.848, -0.591], 10, "x4", line=True),
    xaxis5=x_axis(151.9, 469.8, [-0.131, 0.1935], C_SHAP_TICKS, C_SHAP_TICK_TEXT, -4, "y5", zero=True),
    yaxis5=y_axis(1366.6, 1845, [17.99, -0.996], 18, "x5"),
    xaxis6=x_axis(876, 1257.5, [0, 0.1021], C_BAR_TICKS, C_BAR_TICK_TEXT, -6, "y6"),
    yaxis6=y_axis(1367.3, 1834.5, [9.838, -0.568], 10, "x6", line=True),
)

label(589, 19.8, TITLES[0], color="#444444")
label(589, 674.4, TITLES[1], color="#444444")
label(592.7, 1321.5, TITLES[2], color="#444444")

for names, xs, ys in [(A_FEATURES, A_LABEL_X, A_LABEL_Y), (B_FEATURES, B_LABEL_X, B_LABEL_Y),
                      (C_FEATURES, C_LABEL_X, C_LABEL_Y), (A_BAR_NAMES, A_BAR_LABEL_X, A_BAR_LABEL_Y),
                      (B_BAR_NAMES, B_BAR_LABEL_X, B_BAR_LABEL_Y), (C_BAR_NAMES, C_BAR_LABEL_X, C_BAR_LABEL_Y)]:
    for name, x, y in zip(names, xs, ys):
        label(x, y, name)

# the tick labels of panel (a) sit off their ticks in the source
for text, x in zip(A_SHAP_TICK_TEXT, A_TICK_LABEL_X):
    label(x, 550.4, text, size=22)

for x, y in [(301.7, 576.1), (298.9, 1218.5), (326, 1901.8)]:
    label(x, y, "SHAP value(impact on model output)")
for x, y in [(1061.5, 578.5), (1063, 1212.2), (1068, 1885.3)]:
    label(x, y, "mean(|SHAP value|)")

for x, high_y, low_y, title_x, title_y in [(496, 72.4, 528.7, 525.7, 297.4), (505.5, 724.2, 1162, 535.4, 952.4),
                                           (509, 1373.2, 1844.2, 535.4, 1605.4)]:
    label(x, high_y, "High", anchor="left")
    label(x, low_y, "Low", anchor="left")
    label(title_x, title_y, "Feature value", angle=-90)

fig.update_layout(annotations=annotations)

fig.write_html("out.html", config={"displayModeBar": False}, post_script="document.body.style.margin='0';")
